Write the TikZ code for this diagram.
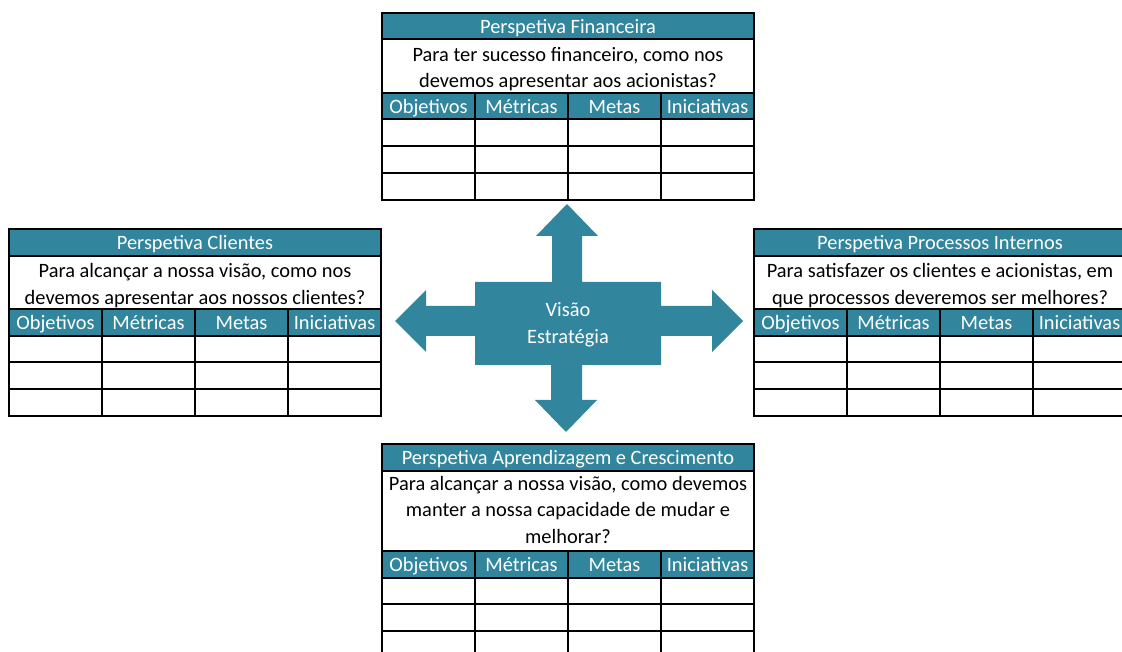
\documentclass[tikz,border=0pt]{standalone}
\usepackage{fontspec}
\setmainfont{Carlito}
\definecolor{bsc}{HTML}{31859C}

\begin{document}
\begin{tikzpicture}[x=0.75pt,y=-0.75pt,
  font=\fontsize{15.3}{20}\selectfont,
  grid/.style={draw=black,line width=1.5pt},
  head/.style={text=white,inner sep=0pt,text height=13pt,text depth=2pt},
  question/.style={align=center,inner sep=0pt},
  vision/.style={text=white,align=center,inner sep=0pt}]
\useasboundingbox (0,0) rectangle (1122,652);

% Locations
\def\rh{26.7}
\def\Perspective#1#2#3#4#5#6{%
  \pgfmathsetmacro\xR{#2+372}
  \pgfmathsetmacro\yT{#3+\rh}
  \pgfmathsetmacro\yQ{\yT+#6*\rh}
  \pgfmathsetmacro\yH{\yQ+\rh}
  \pgfmathsetmacro\yB{\yH+3*\rh}
  \fill[bsc] (#2,#3) rectangle (\xR,\yT);
  \fill[bsc] (#2,\yQ) rectangle (\xR,\yH);
  \foreach \k in {1,2,3}
    \draw[grid] ({#2+93*\k},\yQ) -- ({#2+93*\k},\yB);
  \foreach \k in {1,2}
    \draw[grid] (#2,{\yH+\k*\rh}) -- (\xR,{\yH+\k*\rh});
  \draw[grid] (#2,\yT) -- (\xR,\yT) (#2,\yQ) -- (\xR,\yQ) (#2,\yH) -- (\xR,\yH);
  \draw[grid] (#2,#3) rectangle (\xR,\yB);
  \node[head] (#1-title) at ({#2+186},{#3+\rh/2}) {#4};
  \node[question] (#1-question) at ({#2+186},{(\yT+\yQ)/2+11-4*#6}) {#5};
  \foreach \colname [count=\k from 0] in {Objetivos,Métricas,Metas,Iniciativas}
    \node[head] (#1-col\k) at ({#2+46.5+93*\k},{\yQ+\rh/2}) {\colname};
}

% Tables
\Perspective{fin}{382}{12.7}{Perspetiva Financeira}
  {Para ter sucesso financeiro, como nos\\devemos apresentar aos acionistas?}{2}
\Perspective{cli}{9}{229}{Perspetiva Clientes}
  {Para alcançar a nossa visão, como nos\\devemos apresentar aos nossos clientes?}{2}
\Perspective{proc}{754}{229}{Perspetiva Processos Internos}
  {Para satisfazer os clientes e acionistas, em\\que processos deveremos ser melhores?}{2}
\Perspective{apr}{382}{444}{Perspetiva Aprendizagem e Crescimento}
  {Para alcançar a nossa visão, como devemos\\manter a nossa capacidade de mudar e\\melhorar?}{3}

% Cross
\fill[bsc] (567,204) -- (598,236) -- (582,236) -- (582,282) -- (661,282) -- (661,306)
  -- (712,306) -- (712,290) -- (743,321) -- (712,352) -- (712,336) -- (661,336)
  -- (661,365) -- (582,365) -- (582,400) -- (597,400) -- (566,432) -- (535,400)
  -- (551,400) -- (551,365) -- (475,365) -- (475,336) -- (426,336) -- (426,352)
  -- (395,321) -- (426,290) -- (426,306) -- (475,306) -- (475,282) -- (552,282)
  -- (552,236) -- (536,236) -- cycle;
\node[vision] (vision) at (568,325) {Visão\\Estratégia};

\end{tikzpicture}
\end{document}
